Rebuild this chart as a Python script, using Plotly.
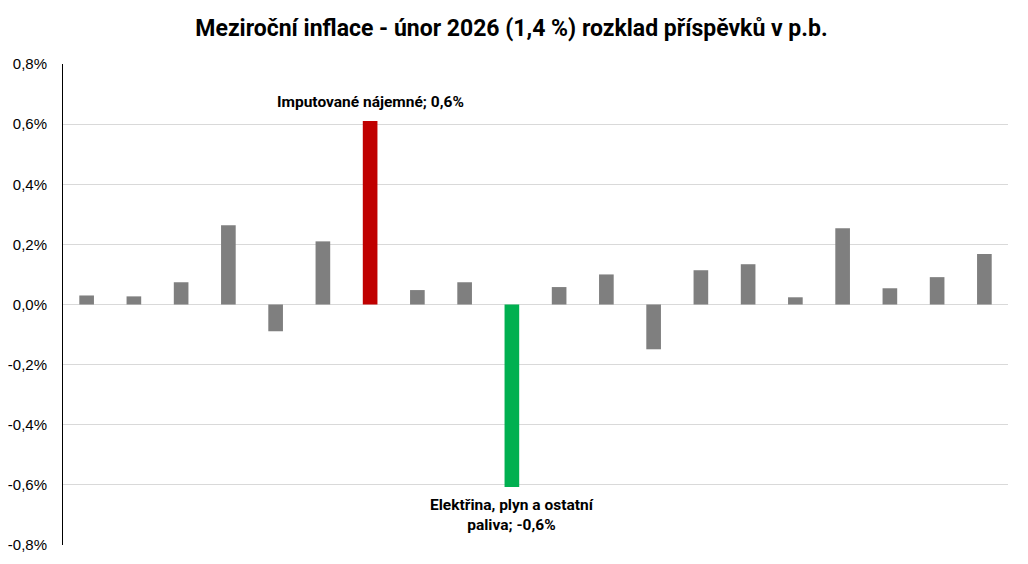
import plotly.graph_objects as go

categories = ["položka %02d" % i for i in range(1, 21)]
values = [0.030, 0.027, 0.074, 0.264, -0.089, 0.210, 0.610, 0.048, 0.074, -0.607,
          0.058, 0.100, -0.149, 0.114, 0.134, 0.024, 0.254, 0.054, 0.091, 0.168]
colors = ["#7f7f7f"] * 20
colors[6] = "#c00000"
colors[9] = "#00b050"

label_top = "Imputované nájemné; 0,6%"
label_bottom = "Elektřina, plyn a ostatní<br>paliva; -0,6%"
y_ticks = [-0.8, -0.6, -0.4, -0.2, 0.0, 0.2, 0.4, 0.6, 0.8]
y_ticktext = ["-0,8%", "-0,6%", "-0,4%", "-0,2%", "0,0%", "0,2%", "0,4%", "0,6%", "0,8%"]

fig = go.Figure()
fig.add_trace(go.Bar(x=categories, y=values, marker=dict(color=colors, line=dict(width=0)),
                     width=0.31, hoverinfo="y"))

fig.add_annotation(x=categories[6], y=values[6], text=label_top, showarrow=False,
                   yanchor="bottom", yshift=8,
                   font=dict(family="Roboto, Arial", size=15.5, color="#000000", weight="bold"))
fig.add_annotation(x=categories[9], y=values[9], text=label_bottom, showarrow=False,
                   yanchor="top", yshift=-7,
                   font=dict(family="Roboto, Arial", size=15.5, color="#000000", weight="bold"))

fig.update_layout(
    width=1020, height=556,
    margin=dict(l=55, r=20, t=56, b=19),
    paper_bgcolor="white", plot_bgcolor="white",
    showlegend=False,
    title=dict(text="<b>Meziroční inflace - únor 2026 (1,4 %) rozklad příspěvků v p.b.</b>",
               x=0.4936, xanchor="center", y=0.965, yanchor="middle",
               font=dict(family="Roboto, Arial", size=23, color="#000000")),
    xaxis=dict(type="category", showticklabels=False, showgrid=False, zeroline=False,
               showline=False, ticks=""),
    yaxis=dict(range=[-0.8, 0.8], tickmode="array", tickvals=y_ticks, ticktext=y_ticktext,
               showgrid=True, gridcolor="#d9d9d9", gridwidth=1,
               zeroline=True, zerolinecolor="#d9d9d9", zerolinewidth=1,
               showline=True, linecolor="#000000", linewidth=1,
               ticks="", ticklabelstandoff=12, automargin=False,
               tickfont=dict(family="Liberation Sans, Arial", size=15, color="#000000")),
)

fig.write_html("out.html")
